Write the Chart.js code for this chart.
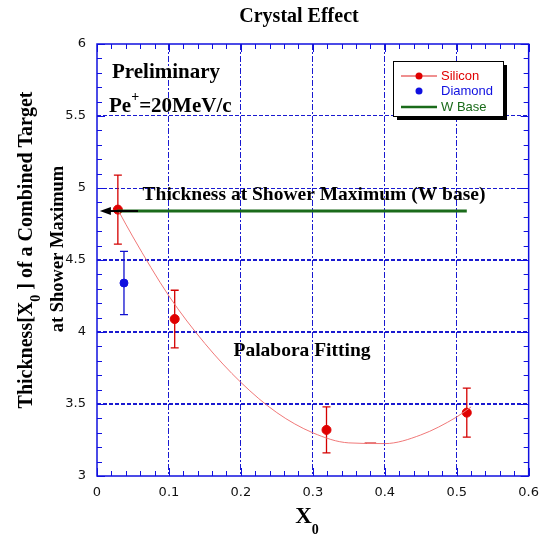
<!DOCTYPE html>
<html>
<head>
<meta charset="utf-8">
<script src="https://cdn.jsdelivr.net/npm/chart.js@4.4.1/dist/chart.umd.min.js"></script>
<style>
  html, body { margin: 0; padding: 0; background: #fff; }
</style>
</head>
<body>
<canvas id="chart" width="548" height="543"></canvas>
<script>
// values
const siliconX = [0.029, 0.108, 0.319, 0.514];
const siliconY = [4.85, 4.09, 3.32, 3.44];
const siliconErr = [0.24, 0.20, 0.16, 0.17];

const diamondX = [0.0375];
const diamondY = [4.34];
const diamondErr = [0.22];

const wBaseX = [0.028, 0.514];
const wBaseY = [4.84, 4.84];

// parabola fit ("Palabora Fitting")
const fitX = [0.03, 0.05, 0.10, 0.15, 0.20, 0.25, 0.30, 0.35, 0.40, 0.45, 0.50, 0.52];
const fitY = [4.84, 4.66, 4.25, 3.92, 3.65, 3.44, 3.30, 3.23, 3.225, 3.285, 3.41, 3.48];
const fitMinX = [0.372, 0.388];
const fitMinY = [3.228, 3.228];

// black arrow at the left end of the W base line
const arrowX = [0.057, 0.004];
const arrowY = [4.84, 4.84];

const xTicks = [0, 0.1, 0.2, 0.3, 0.4, 0.5, 0.6];
const yTicks = [3, 3.5, 4, 4.5, 5, 5.5, 6];

const serif = '"Liberation Serif", "Times New Roman", serif';
const sans = '"DejaVu Sans", sans-serif';
const gridBlue = "#1a1ad0";

const toPts = (xs, ys) => xs.map((x, i) => ({ x: x, y: ys[i] }));

// draws text runs with sub/superscripts, starting at x (left aligned)
function richText(ctx, runs, x, y) {
    let cx = x;
    runs.forEach((r) => {
        ctx.font = r.font;
        ctx.fillText(r.t, cx, y + (r.dy || 0));
        cx += ctx.measureText(r.t).width;
    });
    return cx - x;
}
function richWidth(ctx, runs) {
    let w = 0;
    runs.forEach((r) => { ctx.font = r.font; w += ctx.measureText(r.t).width; });
    return w;
}

const errorBars = {
    id: "errorBars",
    beforeDatasetsDraw(chart) {
        const { ctx, scales } = chart;
        const sx = scales.x, sy = scales.y;
        const draw = (xs, ys, es, color) => {
            ctx.save();
            ctx.strokeStyle = color;
            ctx.lineWidth = 1.3;
            xs.forEach((x, i) => {
                const px = sx.getPixelForValue(x);
                const top = sy.getPixelForValue(ys[i] + es[i]);
                const bot = sy.getPixelForValue(ys[i] - es[i]);
                ctx.beginPath();
                ctx.moveTo(px, top); ctx.lineTo(px, bot);
                ctx.moveTo(px - 4, top); ctx.lineTo(px + 4, top);
                ctx.moveTo(px - 4, bot); ctx.lineTo(px + 4, bot);
                ctx.stroke();
            });
            ctx.restore();
        };
        draw(siliconX, siliconY, siliconErr, "#d40000");
        draw(diamondX, diamondY, diamondErr, "#1010d0");
    },
};

const decorations = {
    id: "decorations",
    afterDatasetsDraw(chart) {
        const { ctx, chartArea: a, scales } = chart;
        const sx = scales.x, sy = scales.y;
        ctx.save();

        // arrow
        const ax0 = sx.getPixelForValue(arrowX[0]);
        const ax1 = sx.getPixelForValue(arrowX[1]);
        const ay = sy.getPixelForValue(arrowY[0]);
        ctx.strokeStyle = "#000";
        ctx.fillStyle = "#000";
        ctx.lineWidth = 2;
        ctx.beginPath();
        ctx.moveTo(ax0, ay); ctx.lineTo(ax1 + 8, ay);
        ctx.stroke();
        ctx.beginPath();
        ctx.moveTo(ax1, ay);
        ctx.lineTo(ax1 + 11, ay - 4);
        ctx.lineTo(ax1 + 11, ay + 4);
        ctx.closePath();
        ctx.fill();

        // frame and inner ticks
        ctx.strokeStyle = "#1010e0";
        ctx.lineWidth = 1.5;
        ctx.strokeRect(a.left, a.top, a.right - a.left, a.bottom - a.top);
        ctx.lineWidth = 1;
        ctx.beginPath();
        for (let i = 0; i <= 30; i++) {
            const v = i * 0.02;
            const px = Math.round(sx.getPixelForValue(v)) + 0.5;
            const len = i % 5 === 0 ? 8 : 5;
            ctx.moveTo(px, a.bottom); ctx.lineTo(px, a.bottom - len);
            ctx.moveTo(px, a.top); ctx.lineTo(px, a.top + len);
        }
        for (let i = 0; i <= 30; i++) {
            const v = 3 + i * 0.1;
            const py = Math.round(sy.getPixelForValue(v)) + 0.5;
            const len = i % 5 === 0 ? 8 : 5;
            ctx.moveTo(a.left, py); ctx.lineTo(a.left + len, py);
            ctx.moveTo(a.right, py); ctx.lineTo(a.right - len, py);
        }
        ctx.stroke();

        // annotations
        ctx.fillStyle = "#000";
        ctx.textBaseline = "middle";
        ctx.textAlign = "left";
        ctx.font = "bold 21px " + serif;
        ctx.fillText("Preliminary", 112, 73);
        richText(ctx, [
            { t: "Pe", font: "bold 21px " + serif },
            { t: "+", font: "bold 14px " + serif, dy: -10 },
            { t: "=20MeV/c", font: "bold 21px " + serif },
        ], 109, 107);

        ctx.textAlign = "center";
        ctx.font = "bold 19.5px " + serif;
        ctx.fillText("Thickness at Shower Maximum (W base)", 314, 195);
        ctx.fillText("Palabora Fitting", 302, 351);

        // title
        ctx.font = "bold 20px " + serif;
        ctx.fillText("Crystal Effect", 299, 17);

        // x title
        ctx.textAlign = "left";
        const xt = [
            { t: "X", font: "bold 23px " + serif },
            { t: "0", font: "bold 14px " + serif, dy: 13 },
        ];
        richText(ctx, xt, 303 - richWidth(ctx, xt) / 2 + 4, 517);

        // y title, two rotated lines
        const l1 = [
            { t: "Thickness[X", font: "bold 20px " + serif },
            { t: "0", font: "bold 14px " + serif, dy: 9 },
            { t: " ] of a Combined Target", font: "bold 20px " + serif },
        ];
        ctx.save();
        ctx.translate(27, 250);
        ctx.rotate(-Math.PI / 2);
        richText(ctx, l1, -richWidth(ctx, l1) / 2, 0);
        ctx.restore();
        ctx.save();
        ctx.translate(58, 249);
        ctx.rotate(-Math.PI / 2);
        ctx.textAlign = "center";
        ctx.font = "bold 18.5px " + serif;
        ctx.fillText("at Shower Maximum", 0, 0);
        ctx.restore();

        // legend box with shadow
        const bx = 393, by = 61, bw = 110, bh = 55;
        ctx.fillStyle = "#000";
        ctx.fillRect(bx + 4, by + 4, bw, bh);
        ctx.fillStyle = "#fff";
        ctx.fillRect(bx, by, bw, bh);
        ctx.strokeStyle = "#000";
        ctx.lineWidth = 1;
        ctx.strokeRect(bx + 0.5, by + 0.5, bw, bh);

        ctx.font = "13px " + '"Liberation Sans", Arial, sans-serif';
        ctx.textAlign = "left";
        // silicon
        ctx.strokeStyle = "#e02020";
        ctx.lineWidth = 1.2;
        ctx.beginPath(); ctx.moveTo(401, 76); ctx.lineTo(437, 76); ctx.stroke();
        ctx.fillStyle = "#e00000";
        ctx.beginPath(); ctx.arc(419, 76, 3.5, 0, Math.PI * 2); ctx.fill();
        ctx.fillText("Silicon", 441, 76);
        // diamond
        ctx.fillStyle = "#1010e0";
        ctx.beginPath(); ctx.arc(419, 91, 3.5, 0, Math.PI * 2); ctx.fill();
        ctx.fillText("Diamond", 441, 91);
        // w base
        ctx.strokeStyle = "#1a6b1a";
        ctx.lineWidth = 2.5;
        ctx.beginPath(); ctx.moveTo(401, 107); ctx.lineTo(437, 107); ctx.stroke();
        ctx.fillStyle = "#1a6b1a";
        ctx.fillText("W Base", 441, 107);

        ctx.restore();
    },
};

new Chart(document.getElementById("chart"), {
    type: "scatter",
    data: {
        datasets: [
            {
                label: "Fit",
                data: toPts(fitX, fitY),
                showLine: true,
                borderColor: "#f07878",
                borderWidth: 1,
                pointRadius: 0,
                cubicInterpolationMode: "monotone",
            },
            {
                label: "Fit minimum",
                data: toPts(fitMinX, fitMinY),
                showLine: true,
                borderColor: "#cc0000",
                borderWidth: 1.5,
                pointRadius: 0,
            },
            {
                label: "W Base",
                data: toPts(wBaseX, wBaseY),
                showLine: true,
                borderColor: "#1a6b1a",
                borderWidth: 3,
                pointRadius: 0,
            },
            {
                label: "Silicon",
                data: toPts(siliconX, siliconY),
                backgroundColor: "#e00000",
                borderColor: "#e00000",
                pointRadius: 4.5,
            },
            {
                label: "Diamond",
                data: toPts(diamondX, diamondY),
                backgroundColor: "#1010e0",
                borderColor: "#1010e0",
                pointRadius: 4,
            },
        ],
    },
    options: {
        responsive: false,
        animation: false,
        layout: { padding: { left: 57, right: 19, top: 44, bottom: 37 } },
        plugins: {
            legend: { display: false },
            tooltip: { enabled: false },
        },
        scales: {
            x: {
                type: "linear",
                min: 0,
                max: 0.6,
                afterFit: (s) => { s.height = 30; },
                afterBuildTicks: (s) => { s.ticks = xTicks.map((v) => ({ value: v })); },
                ticks: {
                    padding: 9,
                    color: "#111",
                    font: { family: sans, size: 13 },
                    callback: (v) => String(v),
                },
                grid: {
                    drawTicks: false,
                    color: (c) => (c.tick && (c.tick.value === 0 || c.tick.value === 0.6) ? "rgba(0,0,0,0)" : gridBlue),
                    lineWidth: 1,
                },
                border: { display: false, dash: [6, 2, 2, 2] },
            },
            y: {
                type: "linear",
                min: 3,
                max: 6,
                afterFit: (s) => { s.width = 40; },
                afterBuildTicks: (s) => { s.ticks = yTicks.map((v) => ({ value: v })); },
                ticks: {
                    padding: 11,
                    color: "#111",
                    font: { family: sans, size: 13 },
                    callback: (v) => String(v),
                },
                grid: {
                    drawTicks: false,
                    color: (c) => (c.tick && (c.tick.value === 3 || c.tick.value === 6) ? "rgba(0,0,0,0)" : gridBlue),
                    lineWidth: (c) => (c.tick && c.tick.value <= 4.5 ? 2 : 1),
                },
                border: { display: false, dash: [4, 2] },
            },
        },
    },
    plugins: [errorBars, decorations],
});
</script>
</body>
</html>
